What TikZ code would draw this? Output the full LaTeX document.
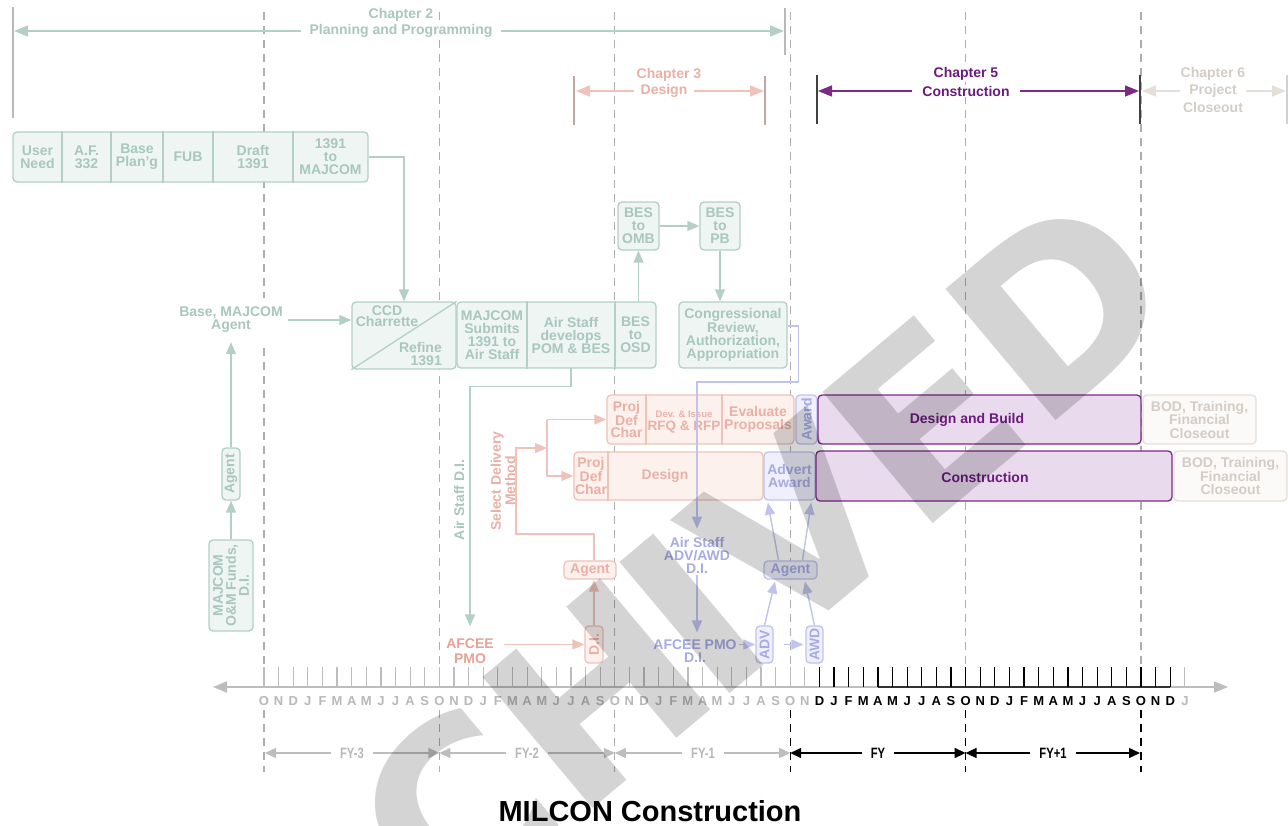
\documentclass[tikz,border=0pt]{standalone}
\usepackage{fontspec}
\setmainfont{Liberation Sans}
\newfontfamily\wmfont{DejaVu Sans}
\usepackage{graphicx}
\usetikzlibrary{arrows.meta,calc}
\definecolor{tealT}{HTML}{A9C7BF}
\definecolor{tealB}{HTML}{B3CFC8}
\definecolor{tealF}{HTML}{EEF5F3}
\definecolor{salT}{HTML}{EAB0A6}
\definecolor{salD}{HTML}{E9A193}
\definecolor{salB}{HTML}{EFC2BA}
\definecolor{salF}{HTML}{FDF1EE}
\definecolor{lavT}{HTML}{A6ABE3}
\definecolor{lavB}{HTML}{BFC3EE}
\definecolor{lavF}{HTML}{EFF0FC}
\definecolor{purB}{HTML}{7D2A86}
\definecolor{purF}{HTML}{E9DAEE}
\definecolor{purT}{HTML}{6B1B7B}
\definecolor{begT}{HTML}{D5CDC5}
\definecolor{begB}{HTML}{E5DFD9}
\definecolor{begF}{HTML}{FBFAF8}
\definecolor{monG}{HTML}{B8B8B8}
\definecolor{tickG}{HTML}{BDBDBD}
\definecolor{dashG}{HTML}{ADADAD}
\definecolor{barG}{HTML}{B9B9B9}
\newcommand\monthname[1]{\ifcase#1 O\or N\or D\or J\or F\or M\or A\or M\or J\or J\or A\or S\fi}
\tikzset{
  basefont/.style={font=\bfseries\fontsize{14}{13}\selectfont},
  anybox/.style={line width=1.3pt, rounded corners=4pt, inner sep=0pt},
  tbox/.style={anybox, draw=tealB, fill=tealF},
  sbox/.style={anybox, draw=salB, fill=salF},
  lbox/.style={anybox, draw=lavB, fill=lavF},
  pbox/.style={anybox, draw=purB, fill=purF},
  cbox/.style={anybox, draw=begB, fill=begF},
  txt/.style={basefont, align=center, inner sep=0pt},
  ttxt/.style={txt, text=tealT},
  stxt/.style={txt, text=salT},
  ltxt/.style={txt, text=lavT},
  ptxt/.style={txt, text=purT},
  btxt/.style={txt, text=begT, font=\bfseries\fontsize{14}{13.5}\selectfont},
  tdiv/.style={draw=tealB, line width=1.3pt},
  sdiv/.style={draw=salB, line width=1.3pt},
  arr/.style={line width=1.4pt, -{Triangle[length=12pt,width=10pt]}},
  tarr/.style={arr, draw=tealB},
  sarr/.style={arr, draw=salB},
  sline/.style={line width=1.4pt, draw=salB},
  larr/.style={arr, draw=lavB},
  charr/.style={line width=1.5pt, -{Triangle[length=14pt,width=11pt]}},
  chtxt/.style={txt, fill=white, inner ysep=1pt},
  dl/.style={draw=dashG, line width=1.2pt, dash pattern=on 8pt off 6pt},
  dlk/.style={draw=black, line width=1.2pt, dash pattern=on 8pt off 6pt},
  tickg/.style={draw=tickG, line width=1.2pt},
  tickk/.style={draw=black, line width=1.2pt},
  montxt/.style={font=\bfseries\fontsize{13}{13}\selectfont, inner sep=0pt},
  fytxt/.style={font=\bfseries\fontsize{15}{15}\selectfont, inner xsep=9pt, inner ysep=0pt},
  fyg/.style={draw=tickG, line width=1.4pt, -{Triangle[length=11pt,width=10pt]}},
  fyk/.style={draw=black, line width=1.4pt, -{Triangle[length=11pt,width=10pt]}},
  wm/.style={font=\wmfont\bfseries\fontsize{235}{235}\selectfont, text=black, text opacity=0.17, inner sep=0pt, anchor=base west, rotate=40},
}
\begin{document}
\begin{tikzpicture}[x=1pt,y=-1pt]
\useasboundingbox (0,0) rectangle (1288,825);
% ---------- dashed year lines
\foreach \x in {264,439.4,614.8,790.2,965.6,1141}{\draw[dl] (\x,12) -- (\x,664);}
\foreach \x in {264,439.4,614.8}{\draw[dl] (\x,710) -- (\x,772);}
\foreach \x in {790.2,965.6,1141}{\draw[dlk] (\x,710) -- (\x,772);}
% ---------- chapter headers
\draw[draw=barG, line width=1.3pt] (13,7) -- (13,118);
\draw[draw=barG, line width=1.3pt] (785,8) -- (785,55);
\node[chtxt, text=tealT] (ch2a) at (401,15) {Chapter 2};
\node[chtxt, text=tealT, inner xsep=8pt] (ch2b) at (401,31) {Planning and Programming};
\coordinate (c2l) at (14,31);
\coordinate (c2r) at (784,31);
\draw[charr, draw=tealB] (ch2b) -- (c2l);
\draw[charr, draw=tealB] (ch2b) -- (c2r);
\draw[draw=barG!90!red, line width=1.3pt] (574,76) -- (574,125);
\draw[draw=barG!90!red, line width=1.3pt] (765,76) -- (765,125);
\node[chtxt, text=salT] (ch3a) at (669,75) {Chapter 3};
\node[chtxt, text=salT, inner xsep=6pt] (ch3b) at (664,91) {Design};
\coordinate (c3l) at (576,91);
\coordinate (c3r) at (764,91);
\draw[charr, draw=salB] (ch3b) -- (c3l);
\draw[charr, draw=salB] (ch3b) -- (c3r);
\draw[draw=black!75, line width=2pt] (817,75) -- (817,124);
\draw[draw=black!75, line width=2pt] (1140,75) -- (1140,124);
\node[chtxt, text=purT] (ch5a) at (966,74) {Chapter 5};
\node[chtxt, text=purT, inner xsep=10pt] (ch5b) at (966,91) {Construction};
\coordinate (c5l) at (818,91);
\coordinate (c5r) at (1139,91);
\draw[charr, draw=purB] (ch5b) -- (c5l);
\draw[charr, draw=purB] (ch5b) -- (c5r);
\draw[draw=black!18, line width=1.3pt] (1287,75) -- (1287,124);
\node[chtxt, text=begT] (ch6a) at (1213,74) {Chapter 6};
\node[chtxt, text=begT, inner xsep=9pt] (ch6b) at (1213,91) {Project};
\node[chtxt, text=begT] (ch6c) at (1213,107) {Closeout};
\coordinate (c6l) at (1142,91);
\coordinate (c6r) at (1286,91);
\draw[charr, draw=begB] (ch6b) -- (c6l);
\draw[charr, draw=begB] (ch6b) -- (c6r);
% ---------- planning row
\node[tbox, minimum width=355pt, minimum height=50pt] (need) at (190.5,157) {};
\foreach \x in {62,111,163,213,293}{\draw[tdiv] (\x,0 |- need.north) -- (\x,0 |- need.south);}
\node[ttxt] (un) at (37.5,157) {User\\Need};
\node[ttxt] (af) at (86.5,157) {A.F.\\332};
\node[ttxt] (bp) at (137,157) {Base\\Plan'g};
\node[ttxt] (fub) at (188,157) {FUB};
\node[ttxt] (dr) at (253,157) {Draft\\1391};
\node[ttxt] (tm) at (330.5,157) {1391\\to\\MAJCOM};
% CCD
\node[tbox, minimum width=104pt, minimum height=67pt] (ccd) at (404,335.5) {};
\draw[tdiv] (ccd.south west) -- (ccd.north east);
\node[ttxt, font=\bfseries\fontsize{14}{11.5}\selectfont] (ccdt) at (387,316) {CCD\\Charrette};
\node[ttxt, align=right, anchor=east] (reft) at (442,354) {Refine\\1391};
\draw[tarr] (need.east) -| (ccd.north);
% Base MAJCOM agent
\node[ttxt, fill=white, inner xsep=5pt, inner ysep=9pt] (bma) at (231,320) {Base, MAJCOM\\Agent};
\draw[tarr] (bma.east) -- (bma.east -| ccd.west);
\node[tbox, minimum width=18pt, minimum height=52pt] (ag1) at (231,474) {};
\node[ttxt, rotate=90] (ag1t) at (ag1.center) {Agent};
\node[tbox, minimum width=44pt, minimum height=91pt] (om) at (231,585.5) {};
\node[ttxt, rotate=90] (omt) at (om.center) {MAJCOM\\O\&M Funds,\\D.I.};
\draw[tarr] (om.north) -- (ag1.south);
\draw[tarr] (ag1.north) -- (bma.south);
% MAJCOM row
\node[tbox, minimum width=199pt, minimum height=66pt] (mr) at (556.5,335) {};
\draw[tdiv] (527,0 |- mr.north) -- (527,0 |- mr.south);
\draw[tdiv] (615,0 |- mr.north) -- (615,0 |- mr.south);
\node[ttxt] (mst) at (492,335) {MAJCOM\\Submits\\1391 to\\Air Staff};
\node[ttxt, minimum height=66pt] (pom) at (571,335) {Air Staff\\develops\\POM \& BES};
\node[ttxt, minimum height=66pt] (osd) at (635.5,335) {BES\\to\\OSD};
\node[tbox, minimum width=41pt, minimum height=48pt] (omb) at (638.5,226) {};
\node[ttxt] (ombt) at (omb.center) {BES\\to\\OMB};
\node[tbox, minimum width=40pt, minimum height=48pt] (pb) at (720,226) {};
\node[ttxt] (pbt) at (pb.center) {BES\\to\\PB};
\node[tbox, minimum width=108pt, minimum height=66pt] (cong) at (733,335) {};
\node[ttxt] (congt) at (cong.center) {Congressional\\Review,\\Authorization,\\Appropriation};
\draw[tarr] (omb.south |- osd.north) -- (omb.south);
\draw[tarr] (omb.east) -- (pb.west);
\draw[tarr] (pb.south) -- (pb.south |- cong.north);
% Air Staff D.I.
\node[txt, text=salD, inner xsep=10pt, inner ysep=12pt, font=\bfseries\fontsize{14}{15}\selectfont] (afs) at (470,651) {AFCEE\\PMO};
\draw[tarr] (pom.south) -- ++(0,18) -| (afs.north);
\node[ttxt, rotate=90] (asd) at (459,500) {Air Staff D.I.};
% ---------- design rows
\node[sbox, minimum width=187pt, minimum height=49pt] (sr1) at (700.5,419.5) {};
\draw[sdiv] (646,0 |- sr1.north) -- (646,0 |- sr1.south);
\draw[sdiv] (722,0 |- sr1.north) -- (722,0 |- sr1.south);
\node[stxt, font=\bfseries\fontsize{14}{12.5}\selectfont] (pd1) at (626.5,419.5) {Proj\\Def\\Char};
\node[stxt, font=\bfseries\fontsize{9.5}{9.5}\selectfont] (rfq1) at (684,414) {Dev. \& Issue};
\node[stxt, font=\bfseries\fontsize{13.5}{13}\selectfont] (rfq2) at (684,427) {RFQ \& RFP};
\node[stxt] (evp) at (758,419) {Evaluate\\Proposals};
\node[sbox, minimum width=189pt, minimum height=48pt] (sr2) at (668.5,476) {};
\draw[sdiv] (608,0 |- sr2.north) -- (608,0 |- sr2.south);
\node[stxt, font=\bfseries\fontsize{14}{12.5}\selectfont] (pd2) at (591,476) {Proj\\Def\\Char};
\node[stxt] (des) at (665,476) {Design};
\node[sbox, minimum width=18pt, minimum height=37pt] (di) at (594,644.5) {};
\node[stxt, rotate=90] (dit) at (di.center) {D.I.};
\draw[sarr] (afs.east |- di.west) -- (di.west);
\node[sbox, minimum width=52pt, minimum height=18pt] (sag) at (590,570) {};
\node[stxt] (sagt) at (sag.center) {Agent};
\draw[sarr] (di.north) -- (di.north |- sag.south);
\coordinate (split) at (547,448);
\coordinate (sd1) at (516,534);
\draw[sarr] (di.north |- sag.north) |- (sd1) |- (split);
\draw[sline] (split |- sr1.west) -- (split |- sr2.west);
\draw[sarr] (split |- sr1.west) -- (sr1.west);
\draw[sarr] (split |- sr2.west) -- (sr2.west);
\node[stxt, rotate=90] (sdm) at (503,481) {Select Delivery\\Method};
% ---------- advert / award
\node[lbox, minimum width=21pt, minimum height=49pt] (awd1) at (806.5,419.5) {};
\node[ltxt, rotate=90] (awd1t) at (awd1.center) {Award};
\node[lbox, minimum width=51pt, minimum height=48pt] (adaw) at (789.5,476) {};
\node[ltxt] (adawt) at (adaw.center) {Advert\\Award};
\node[ltxt, inner ysep=2pt] (asadv) at (697,555) {Air Staff\\ADV/AWD\\D.I.};
\draw[larr, shorten >=6pt] ([yshift=9pt]cong.east) -- ++(11,0) -- ++(0,56) -| (asadv.north);
\node[ltxt, inner ysep=2pt, inner xsep=2pt] (afl) at (695,651) {AFCEE PMO\\D.I.};
\draw[larr, shorten >=5pt] (asadv.south) -- (asadv.south |- afl.north);
\node[lbox, minimum width=17pt, minimum height=37pt] (adv) at (764.5,644.5) {};
\node[ltxt, rotate=90] (advt) at (adv.center) {ADV};
\node[lbox, minimum width=17pt, minimum height=37pt] (awd) at (814.5,644.5) {};
\node[ltxt, rotate=90] (awdt) at (awd.center) {AWD};
\draw[larr] (afl.east |- adv.west) -- (adv.west);
\draw[larr, shorten <=10pt, shorten >=2pt] (adv.east) -- (awd.west);
\node[lbox, minimum width=53pt, minimum height=18pt] (lag) at (790.5,570) {};
\node[ltxt] (lagt) at (lag.center) {Agent};
\draw[larr, shorten >=2pt] (adv.north) -- ([xshift=-15pt]lag.south);
\draw[larr, shorten >=2pt] (awd.north) -- ([xshift=14pt]lag.south);
\draw[larr, shorten >=2pt] ([xshift=-12pt]lag.north) -- ([xshift=-22pt]adaw.south);
\draw[larr, shorten >=2pt] ([xshift=12pt]lag.north) -- ([xshift=22pt]adaw.south);
% ---------- construction
\node[pbox, minimum width=323pt, minimum height=49pt] (db) at (979.5,419.5) {};
\node[ptxt] (dbt) at (967,420) {Design and Build};
\node[pbox, minimum width=356pt, minimum height=50pt] (cons) at (994,476) {};
\node[ptxt] (const) at (985,477) {Construction};
\node[cbox, minimum width=113pt, minimum height=49pt] (bod1) at (1199.5,419.5) {};
\node[btxt] (bod1t) at (bod1.center) {BOD, Training,\\Financial\\Closeout};
\node[cbox, minimum width=113pt, minimum height=50pt] (bod2) at (1230.5,476) {};
\node[btxt] (bod2t) at (bod2.center) {BOD, Training,\\Financial\\Closeout};
% ---------- timeline
\draw[draw=tickG, line width=2pt, {Triangle[length=14pt,width=11pt]}-{Triangle[length=14pt,width=11pt]}] (213,687) -- (1228,687);
\draw[draw=black!80, line width=1.6pt] (878,687) -- (1170.4,687);
\foreach \k in {0,...,37,63}{
  \pgfmathsetmacro\xx{264+14.617*\k}
  \pgfmathtruncatemacro\mm{mod(\k,12)}
  \draw[tickg] (\xx,667) -- (\xx,687);
  \node[montxt, text=monG] (m\k) at (\xx,701) {\monthname{\mm}};
}
\foreach \k in {38,...,62}{
  \pgfmathsetmacro\xx{264+14.617*\k}
  \pgfmathtruncatemacro\mm{mod(\k,12)}
  \draw[tickk] (\xx,667) -- (\xx,687);
  \node[montxt, text=black] (m\k) at (\xx,701) {\monthname{\mm}};
}
\foreach \i/\x in {0/265,1/439.4,2/614.8,3/790.2,4/965.6,5/1140}{\coordinate (fy\i) at (\x,753);}
\node[fytxt, text=monG] (fya) at (352,753) {\scalebox{0.75}[1]{FY-3}};
\node[fytxt, text=monG] (fyb) at (527,753) {\scalebox{0.75}[1]{FY-2}};
\node[fytxt, text=monG] (fyc) at (703,753) {\scalebox{0.75}[1]{FY-1}};
\node[fytxt, text=black] (fyd) at (878,753) {\scalebox{0.75}[1]{FY}};
\node[fytxt, text=black] (fye) at (1053,753) {\scalebox{0.75}[1]{FY+1}};
\draw[fyg] (fya) -- (fy0); \draw[fyg] (fya) -- (fy1);
\draw[fyg] (fyb) -- (fy1); \draw[fyg] (fyb) -- (fy2);
\draw[fyg] (fyc) -- (fy2); \draw[fyg] (fyc) -- (fy3);
\draw[fyk] (fyd) -- (fy3); \draw[fyk] (fyd) -- (fy4);
\draw[fyk] (fye) -- (fy4); \draw[fyk] (fye) -- (fy5);
% ---------- title
\node[font=\bfseries\fontsize{29}{29}\selectfont, inner sep=0pt] (title) at (650,811) {MILCON Construction};
% ---------- watermark (runs off the bottom edge, as in the original)
\foreach \c/\t in {R/-576, C/-395, H/-222.5, I/-43.7, V/42, E/221.5, D/382}{
  \node[wm] (wm\c) at ({747+0.766*\t},{680-0.643*\t}) {\c};
}
\end{tikzpicture}
\end{document}
